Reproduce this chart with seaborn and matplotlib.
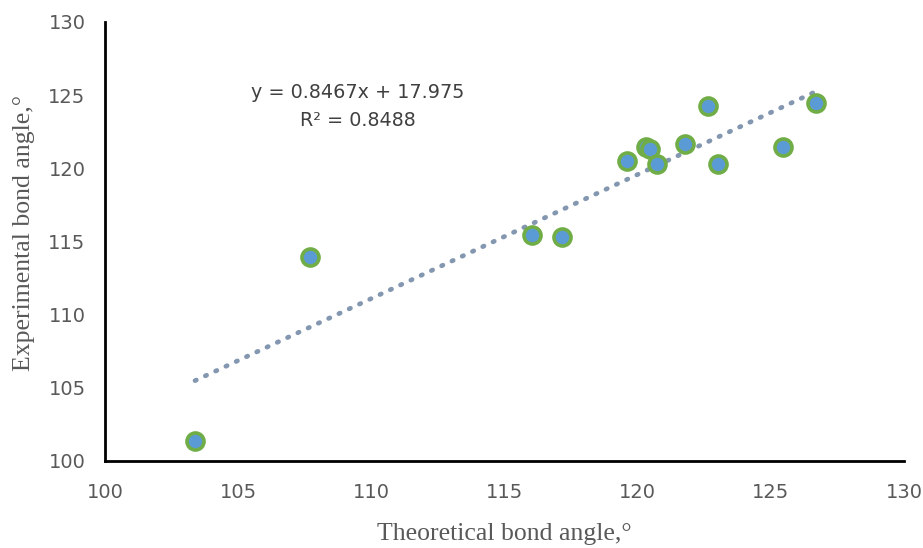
import matplotlib
matplotlib.use("Agg")
import matplotlib.pyplot as plt
import seaborn as sns
import pandas as pd
import numpy as np

theoretical = [103.38, 107.70, 116.02, 117.17, 119.59, 120.30, 120.47, 120.74,
               121.77, 122.65, 123.03, 125.45, 126.69]
experimental = [101.37, 113.94, 115.45, 115.33, 120.51, 121.44, 121.33, 120.28,
                121.65, 124.29, 120.28, 121.44, 124.45]
x_ticks = [100, 105, 110, 115, 120, 125, 130]
y_ticks = [100, 105, 110, 115, 120, 125, 130]
eq_label = "y = 0.8467x + 17.975"
r2_label = "R² = 0.8488"
x_label = "Theoretical bond angle,°"
y_label = "Experimental bond angle,°"

df = pd.DataFrame({"x": theoretical, "y": experimental})

sns.set_style("white")
fig = plt.figure(figsize=(9.23, 5.48), dpi=100)
ax = fig.add_axes([0.1138, 0.1588, 0.8656, 0.8011])

sns.regplot(data=df, x="x", y="y", ax=ax, ci=None, scatter=False, truncate=True,
            line_kws=dict(color="#8497B0", lw=3.4, ls=(0, (0.3, 2.1)),
                          solid_capstyle="round", dash_capstyle="round"))
sns.scatterplot(data=df, x="x", y="y", ax=ax, s=150, color="#5B9BD5",
                edgecolor="#70AD47", linewidth=2.6, zorder=3, legend=False)

ax.set_xlim(100, 130)
ax.set_ylim(100, 130)
ax.set_xticks(x_ticks)
ax.set_yticks(y_ticks)
for s in ["top", "right"]:
    ax.spines[s].set_visible(False)
for s in ["left", "bottom"]:
    ax.spines[s].set_color("black")
    ax.spines[s].set_linewidth(2)
ax.tick_params(axis="both", direction="out", length=6, width=2, color="black",
               labelsize=14, labelcolor="#595959")
ax.tick_params(axis="x", pad=10)
ax.tick_params(axis="y", pad=8)
for lab in ax.get_xticklabels() + ax.get_yticklabels():
    lab.set_family("DejaVu Sans")

ax.set_xlabel(x_label, family="Liberation Serif", fontsize=18.5, color="#595959", labelpad=15)
ax.set_ylabel(y_label, family="Liberation Serif", fontsize=18.5, color="#595959")
ax.yaxis.set_label_coords(-0.088, 0.52)

ax.text(109.5, 125.15, eq_label, ha="center", va="center", fontsize=13.8,
        family="DejaVu Sans", color="#404040")
ax.text(109.5, 123.3, r2_label, ha="center", va="center", fontsize=13.8,
        family="DejaVu Sans", color="#404040")

fig.savefig("out.png", dpi=100)
